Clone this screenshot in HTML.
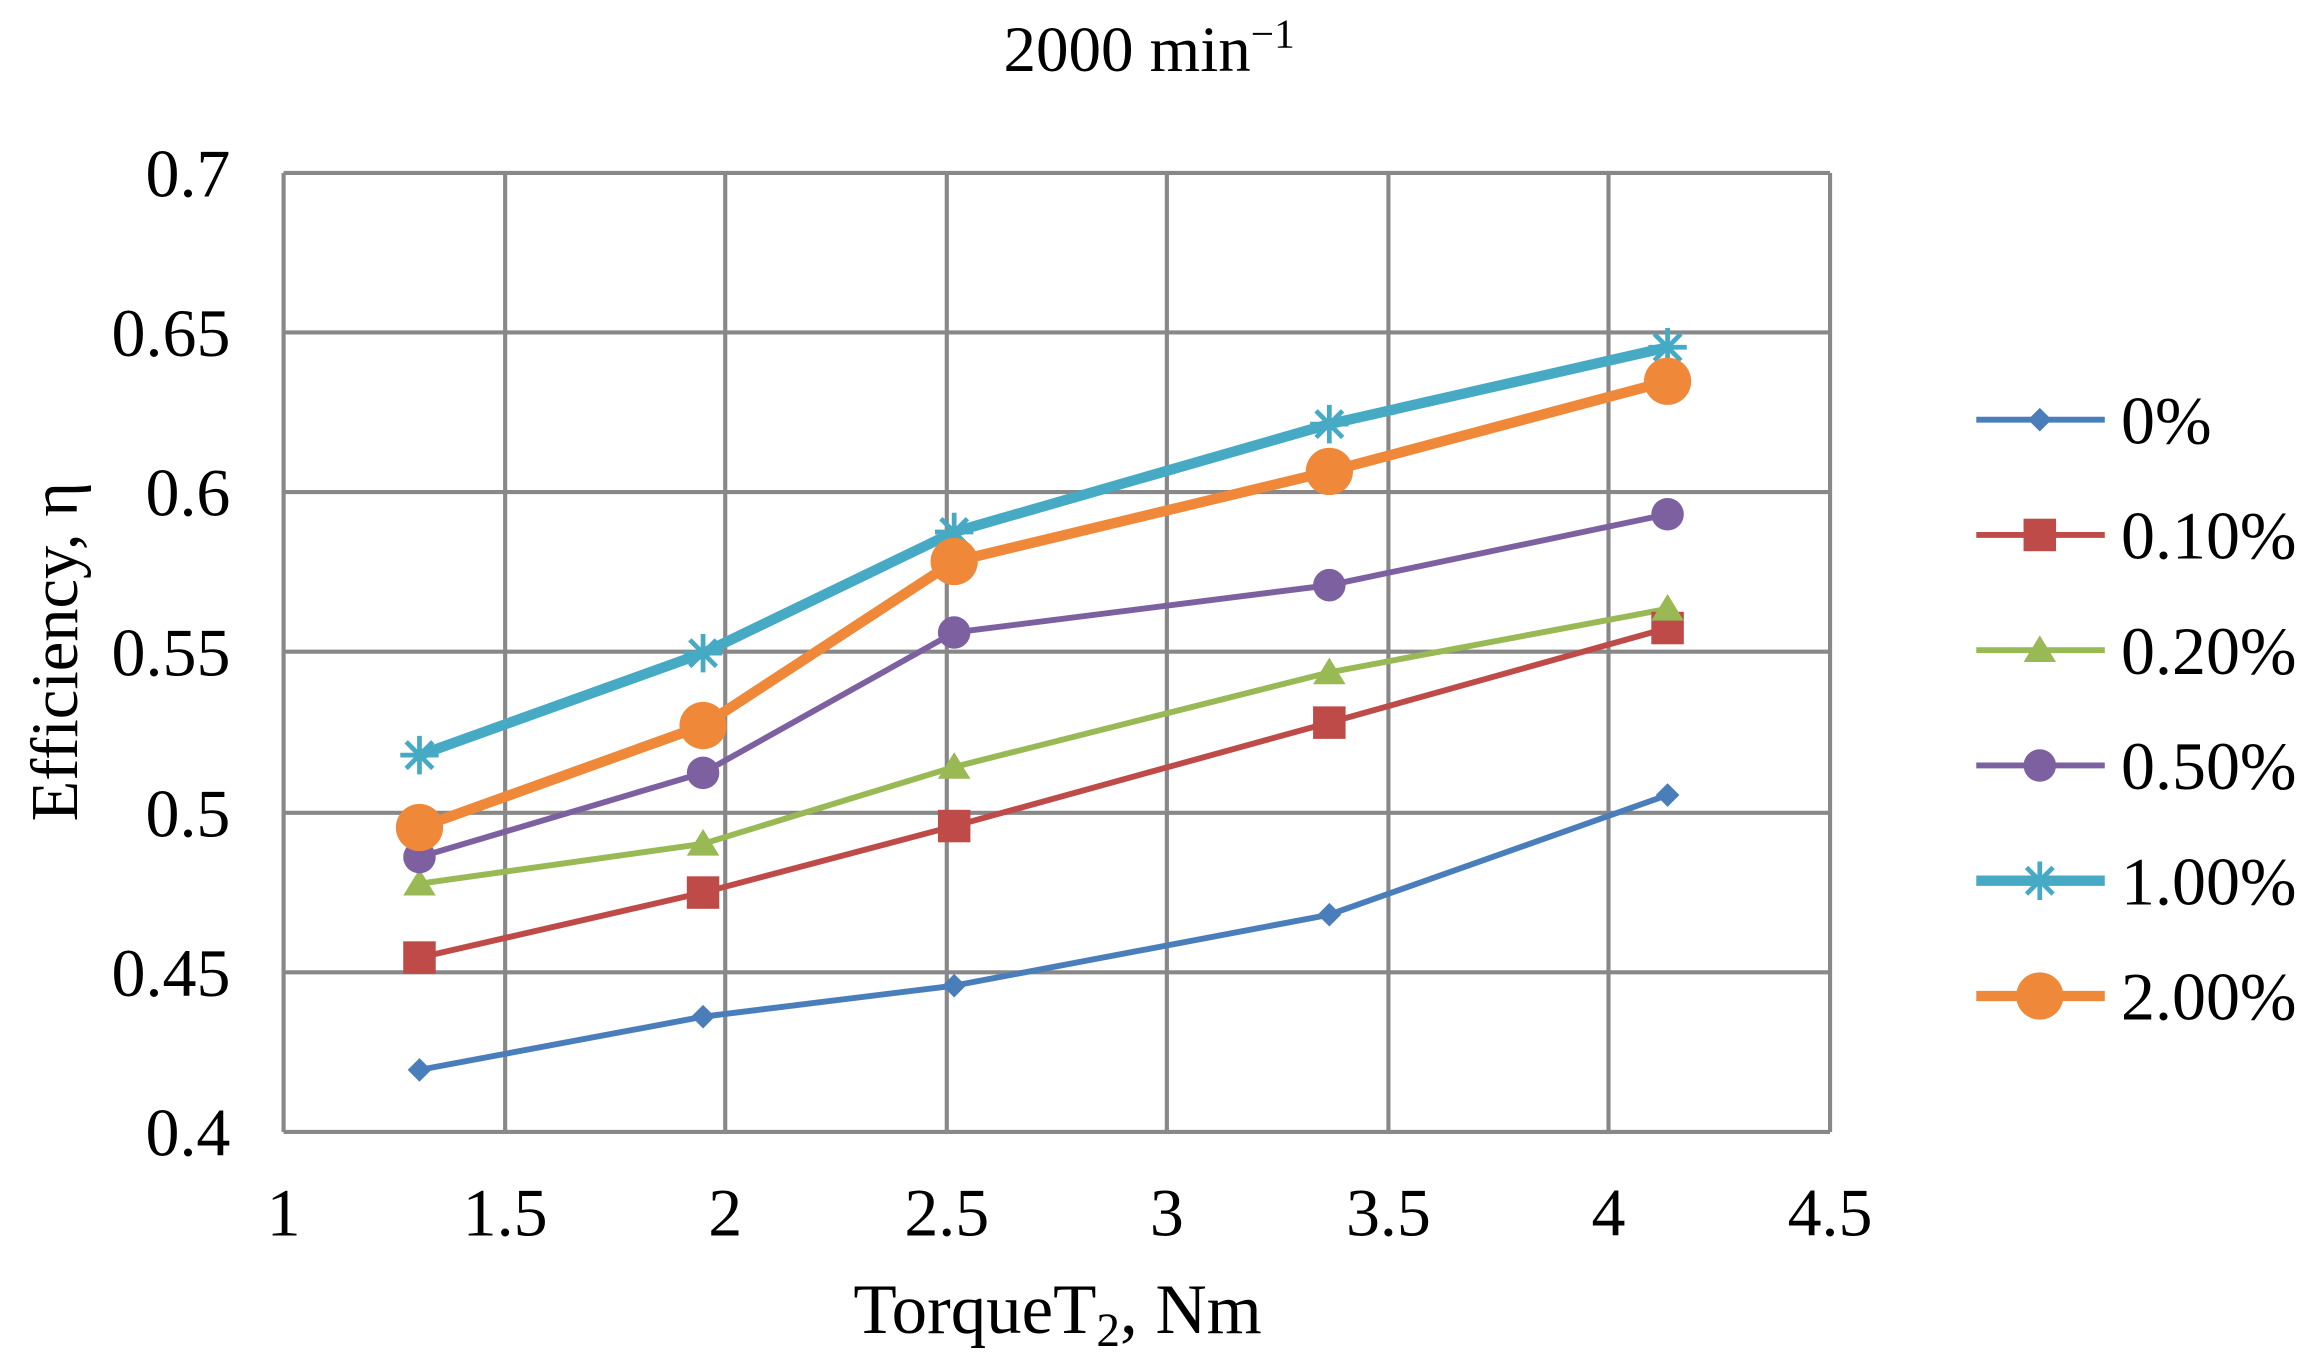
<!DOCTYPE html>
<html><head><style>html,body{margin:0;padding:0;background:#fff}svg{display:block}</style></head>
<body>
<svg width="2316" height="1361" viewBox="0 0 1568 921" preserveAspectRatio="none" xmlns="http://www.w3.org/2000/svg" font-family="Liberation Serif, serif">
<rect width="1568" height="921" fill="#fff"/>
<g stroke="#888" stroke-width="2.8">
<line x1="192" y1="117" x2="1239" y2="117"/>
<line x1="192" y1="225" x2="1239" y2="225"/>
<line x1="192" y1="333" x2="1239" y2="333"/>
<line x1="192" y1="441" x2="1239" y2="441"/>
<line x1="192" y1="550" x2="1239" y2="550"/>
<line x1="192" y1="658" x2="1239" y2="658"/>
<line x1="192" y1="766" x2="1239" y2="766"/>
<line x1="192" y1="117" x2="192" y2="766"/>
<line x1="342" y1="117" x2="342" y2="766"/>
<line x1="491" y1="117" x2="491" y2="766"/>
<line x1="641" y1="117" x2="641" y2="766"/>
<line x1="790" y1="117" x2="790" y2="766"/>
<line x1="940" y1="117" x2="940" y2="766"/>
<line x1="1089" y1="117" x2="1089" y2="766"/>
<line x1="1239" y1="117" x2="1239" y2="766"/>
</g>
<g font-size="46" text-anchor="end" fill="#000">
<text x="156" y="133">0.7</text><text x="156" y="241">0.65</text><text x="156" y="349">0.6</text>
<text x="156" y="457">0.55</text><text x="156" y="566">0.5</text><text x="156" y="674">0.45</text><text x="156" y="782">0.4</text>
</g>
<g font-size="46" text-anchor="middle" fill="#000">
<text x="192" y="836">1</text><text x="342" y="836">1.5</text><text x="491" y="836">2</text><text x="641" y="836">2.5</text>
<text x="790" y="836">3</text><text x="940" y="836">3.5</text><text x="1089" y="836">4</text><text x="1239" y="836">4.5</text>
<text x="716" y="902" font-size="48">TorqueT<tspan font-size="32" dy="9">2</tspan><tspan dy="-9">, Nm</tspan></text>
<text x="778" y="48" font-size="44">2000 min<tspan font-size="28" dy="-16">−1</tspan></text>
<text transform="translate(52,441) rotate(-90)" font-size="45">Efficiency, η</text>
</g>
<g fill="none" stroke-linejoin="round">
<polyline stroke="#4a7ebb" stroke-width="4" points="284,724 476,688 646,667 900,619 1129,538"/>
<polyline stroke="#be4b48" stroke-width="4" points="284,648 476,604 646,559 900,489 1129,425"/>
<polyline stroke="#98b954" stroke-width="4" points="284,598 476,571 646,519 900,455 1129,412"/>
<polyline stroke="#7d60a0" stroke-width="4" points="284,580 476,523 646,428 900,396 1129,348"/>
<polyline stroke="#46aac5" stroke-width="7" points="284,511 476,442 646,360 900,287 1129,235"/>
<polyline stroke="#f0883a" stroke-width="7" points="284,560 476,491 646,380 900,319 1129,258"/>
</g>
<g fill="#4a7ebb"><path d="M284,716 l8,8 -8,8 -8,-8z M476,680 l8,8 -8,8 -8,-8z M646,659 l8,8 -8,8 -8,-8z M900,611 l8,8 -8,8 -8,-8z M1129,530 l8,8 -8,8 -8,-8z M1381,276 l8,8 -8,8 -8,-8z"/></g>
<g fill="#be4b48"><rect x="273" y="637" width="22" height="22"/><rect x="465" y="593" width="22" height="22"/><rect x="635" y="548" width="22" height="22"/><rect x="889" y="478" width="22" height="22"/><rect x="1118" y="414" width="22" height="22"/><rect x="1370" y="351" width="22" height="22"/></g>
<g fill="#98b954"><path d="M284,588 l11,18 h-22z M476,561 l11,18 h-22z M646,509 l11,18 h-22z M900,445 l11,18 h-22z M1129,402 l11,18 h-22z M1381,430 l11,18 h-22z"/></g>
<g fill="#7d60a0"><circle cx="284" cy="580" r="11"/><circle cx="476" cy="523" r="11"/><circle cx="646" cy="428" r="11"/><circle cx="900" cy="396" r="11"/><circle cx="1129" cy="348" r="11"/><circle cx="1381" cy="518" r="11"/></g>
<g stroke="#46aac5" stroke-width="3.2">
<path d="M271,511h26M284,498v26M275,502l18,18M293,502l-18,18"/>
<path d="M463,442h26M476,429v26M467,433l18,18M485,433l-18,18"/>
<path d="M633,360h26M646,347v26M637,351l18,18M655,351l-18,18"/>
<path d="M887,287h26M900,274v26M891,278l18,18M909,278l-18,18"/>
<path d="M1116,235h26M1129,222v26M1120,226l18,18M1138,226l-18,18"/>
<path d="M1368,596h26M1381,583v26M1372,587l18,18M1390,587l-18,18"/>
</g>
<g fill="#f0883a"><circle cx="284" cy="560" r="16"/><circle cx="476" cy="491" r="16"/><circle cx="646" cy="380" r="16"/><circle cx="900" cy="319" r="16"/><circle cx="1129" cy="258" r="16"/><circle cx="1381" cy="674" r="16"/></g>
<g stroke-width="4">
<line x1="1338" y1="284" x2="1425" y2="284" stroke="#4a7ebb"/>
<line x1="1338" y1="362" x2="1425" y2="362" stroke="#be4b48"/>
<line x1="1338" y1="440" x2="1425" y2="440" stroke="#98b954"/>
<line x1="1338" y1="518" x2="1425" y2="518" stroke="#7d60a0"/>
<line x1="1338" y1="596" x2="1425" y2="596" stroke="#46aac5" stroke-width="7"/>
<line x1="1338" y1="674" x2="1425" y2="674" stroke="#f0883a" stroke-width="7"/>
</g>
<g font-size="46" fill="#000">
<text x="1436" y="300">0%</text><text x="1436" y="378">0.10%</text><text x="1436" y="456">0.20%</text>
<text x="1436" y="534">0.50%</text><text x="1436" y="612">1.00%</text><text x="1436" y="690">2.00%</text>
</g>
</svg>
</body></html>
